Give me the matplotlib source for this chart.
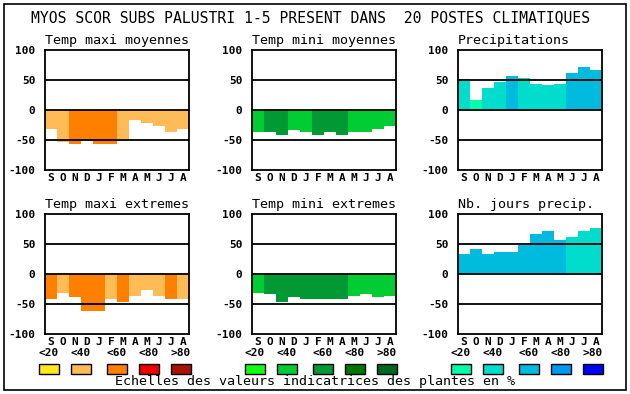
import matplotlib
matplotlib.use("Agg")
import matplotlib.pyplot as plt
from matplotlib.patches import Rectangle

plt.rcParams['font.family'] = ['DejaVu Sans Mono']

# mois (septembre -> aout)
months = ["S", "O", "N", "D", "J", "F", "M", "A", "M", "J", "J", "A"]

# valeurs
tmax_moy = [-31, -53, -57, -52, -57, -57, -52, -17, -21, -27, -37, -31]
tmax_moy_cls = [1, 1, 2, 2, 2, 2, 1, 1, 1, 1, 1, 1]
tmin_moy = [-36, -36, -41, -34, -36, -41, -36, -42, -37, -36, -31, -27]
tmin_moy_cls = [1, 2, 2, 1, 1, 2, 2, 2, 1, 1, 1, 1]
precip = [52, 16, 37, 47, 56, 54, 44, 41, 44, 62, 71, 67]
precip_cls = [1, 0, 1, 1, 2, 1, 1, 1, 1, 2, 2, 2]
tmax_ext = [-42, -31, -38, -61, -62, -42, -46, -36, -27, -36, -42, -42]
tmax_ext_cls = [2, 1, 2, 2, 2, 1, 2, 1, 1, 1, 2, 1]
tmin_ext = [-31, -33, -46, -38, -41, -41, -41, -42, -36, -33, -38, -36]
tmin_ext_cls = [1, 2, 2, 2, 2, 2, 2, 2, 1, 1, 1, 1]
jours_precip = [34, 41, 34, 37, 36, 48, 66, 71, 57, 61, 71, 76]
jours_precip_cls = [2, 2, 2, 2, 2, 2, 2, 2, 2, 1, 1, 1]

# palettes (classes <20 <40 <60 <80 >80)
classes = ["<20", "<40", "<60", "<80", ">80"]
oranges = ["#FFE81A", "#FFBB55", "#FF8000", "#EE0000", "#AA1100"]
greens = ["#11FF11", "#00CC33", "#009933", "#007700", "#006622"]
blues = ["#00FFAA", "#00DDCC", "#00BBDD", "#0099EE", "#0000FF"]

W, H = 630, 394
fig = plt.figure(figsize=(W / 100, H / 100), dpi=100)


def fx(px):
    return px / W


def fy(py):
    return 1 - py / H


panels = [
    ("Temp maxi moyennes", tmax_moy, tmax_moy_cls, oranges, 45, 50),
    ("Temp mini moyennes", tmin_moy, tmin_moy_cls, greens, 252, 50),
    ("Precipitations", precip, precip_cls, blues, 458, 50),
    ("Temp maxi extremes", tmax_ext, tmax_ext_cls, oranges, 45, 214),
    ("Temp mini extremes", tmin_ext, tmin_ext_cls, greens, 252, 214),
    ("Nb. jours precip.", jours_precip, jours_precip_cls, blues, 458, 214),
]

for title, vals, cls, pal, x0, y0 in panels:
    ax = fig.add_axes([fx(x0), fy(y0 + 120), fx(144), 120 / H])
    ax.bar(range(12), vals, width=1, align="edge",
           color=[pal[c] for c in cls], linewidth=0, zorder=1)
    for yy in (50, 0, -50):
        ax.axhline(yy, color="black", lw=1.3, zorder=3)
    ax.set_xlim(0, 12)
    ax.set_ylim(-100, 100)
    ax.set_yticks([100, 50, 0, -50, -100])
    ax.set_yticklabels(["100", "50", "0", "-50", "-100"],
                       fontsize=8, fontweight="bold")
    ax.set_xticks([i + 0.5 for i in range(12)])
    ax.set_xticklabels(months, fontsize=8, fontweight="bold")
    ax.tick_params(length=0, pad=2)
    ax.tick_params(axis="y", pad=7)
    for s in ax.spines.values():
        s.set_linewidth(1.3)
    ax.set_title(title, loc="left", fontsize=9.6, pad=4)

# titre principal
fig.text(fx(311), fy(18), "MYOS SCOR SUBS PALUSTRI 1-5 PRESENT DANS  20 POSTES CLIMATIQUES",
         ha="center", va="center", fontsize=10.6)

# legende des classes
for pal, xs in ((oranges, [39, 71, 107, 139, 171]),
                (greens, [245, 277, 313, 345, 377]),
                (blues, [451, 483, 519, 551, 583])):
    for lab, col, x in zip(classes, pal, xs):
        fig.add_artist(Rectangle((fx(x), fy(374)), fx(20), 10 / H,
                                 transform=fig.transFigure, facecolor=col,
                                 edgecolor="black", lw=1))
        fig.text(fx(x + 10), fy(353), lab, ha="center", va="center",
                 fontsize=8, fontweight="bold")

fig.text(fx(315), fy(382), "Echelles des valeurs indicatrices des plantes en %",
         ha="center", va="center", fontsize=9.6)

# cadre
fig.add_artist(Rectangle((fx(4), fy(390)), fx(622), 386 / H,
                         transform=fig.transFigure, fill=False,
                         edgecolor="black", lw=1.2))

fig.savefig("out.png", dpi=100)
